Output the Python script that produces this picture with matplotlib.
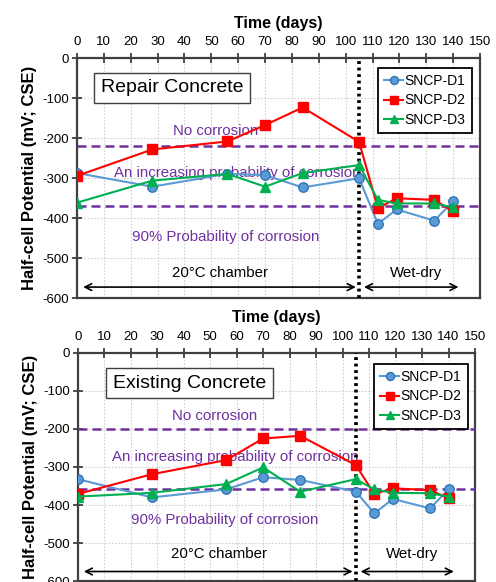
import numpy as np
import matplotlib
matplotlib.use('Agg')
import matplotlib.pyplot as plt

plt.rcParams['font.family'] = ['Liberation Sans', 'DejaVu Sans']
plt.rcParams['axes.unicode_minus'] = False

# measurement days
days = [0, 28, 56, 70, 84, 105, 112, 119, 133, 140]

# repair concrete potentials (mV, CSE)
repair_d1 = [-287, -321, -289, -292, -323, -300, -414, -378, -406, -358]
repair_d2 = [-294, -228, -208, -167, -123, -209, -375, -350, -354, -383]
repair_d3 = [-361, -306, -289, -321, -287, -267, -354, -363, -363, -373]

# existing concrete potentials (mV, CSE)
exist_d1 = [-332, -380, -359, -327, -334, -365, -422, -384, -409, -359]
exist_d2 = [-371, -319, -282, -225, -218, -295, -371, -356, -361, -382]
exist_d3 = [-378, -368, -345, -301, -365, -332, -359, -368, -369, -378]

series_names = ['SNCP-D1', 'SNCP-D2', 'SNCP-D3']

# corrosion thresholds drawn on each panel
repair_limits = [-220, -370]
exist_limits = [-200, -357]

switch_day = 105

purple = '#7030A0'
spine_col = '#404040'

styles = [
    dict(color='#5B9BD5', marker='o', ms=6.8, mfc='#5B9BD5', mec='#2E75B6', mew=1.0, lw=1.5),
    dict(color='#FF0000', marker='s', ms=7.0, mfc='#FF0000', mec='#FF0000', mew=1.0, lw=1.5),
    dict(color='#00B050', marker='^', ms=6.6, mfc='#00B050', mec='#00B050', mew=1.0, lw=1.5),
]


def draw_panel(ax, data, limits, title, txt_y, arrow_y, box_xy, leg_anchor):
    for vals, name, st in zip(data, series_names, styles):
        ax.plot(days, vals, label=name, zorder=4, **st)

    for lim in limits:
        ax.axhline(lim, color=purple, lw=1.8, dashes=(3.6, 2.0), zorder=3)
    ax.axvline(switch_day, color='black', lw=2.6, linestyle=(0, (0.8, 1.0)), zorder=3)

    ax.set_xlim(0, 150)
    ax.set_ylim(-600, 0)
    ax.set_xticks(np.arange(0, 151, 10))
    ax.set_yticks(np.arange(-600, 1, 100))
    ax.xaxis.tick_top()
    ax.xaxis.set_label_position('top')
    ax.tick_params(axis='both', direction='inout', length=7, width=1.3,
                   color=spine_col, labelsize=9.5, pad=2)
    ax.tick_params(axis='x', pad=4)
    ax.grid(True, color='#d0d0d0', lw=0.8, linestyle=(0, (1.5, 1.5)), zorder=0)
    for sp in ax.spines.values():
        sp.set_color(spine_col)
        sp.set_linewidth(1.6)

    ax.set_xlabel('Time (days)', fontsize=11.5, fontweight='bold', labelpad=6)
    ax.set_ylabel('Half-cell Potential (mV; CSE)', fontsize=12, fontweight='bold', labelpad=4)

    ax.text(box_xy[0], box_xy[1], title, fontsize=14, ha='center', va='center', zorder=6,
            bbox=dict(boxstyle='square,pad=0.35', fc='white', ec=spine_col, lw=1.0))

    ax.text(51.5, txt_y[0], 'No corrosion', color=purple, fontsize=10.8,
            ha='center', va='center', zorder=2)
    ax.text(59.6, txt_y[1], 'An increasing probability of corrosion', color=purple,
            fontsize=10.8, ha='center', va='center', zorder=2)
    ax.text(55.5, txt_y[2], '90% Probability of corrosion', color=purple, fontsize=10.8,
            ha='center', va='center', zorder=2)
    ax.text(53.3, txt_y[3], '20°C chamber', color='black', fontsize=10.8,
            ha='center', va='center')
    ax.text(126.2, txt_y[3], 'Wet-dry', color='black', fontsize=10.8,
            ha='center', va='center')

    arrow = dict(arrowstyle='<->', color='black', lw=1.2, mutation_scale=12,
                 shrinkA=0, shrinkB=0)
    ax.annotate('', xy=(103.8, arrow_y), xytext=(2.3, arrow_y), arrowprops=arrow)
    ax.annotate('', xy=(142.0, arrow_y), xytext=(106.8, arrow_y), arrowprops=arrow)

    leg = ax.legend(loc='upper right', bbox_to_anchor=leg_anchor, borderaxespad=0,
                    fontsize=10, handlelength=1.4, handletextpad=0.1,
                    labelspacing=0.38, borderpad=0.45, fancybox=False,
                    framealpha=1, edgecolor='black', markerscale=0.85)
    leg.get_frame().set_linewidth(1.3)
    leg.set_zorder(7)


fig = plt.figure(figsize=(4.96, 5.82), dpi=100)

ax1 = fig.add_axes([0.1552, 0.4875, 0.8125, 0.4124])
draw_panel(ax1, [repair_d1, repair_d2, repair_d3], repair_limits, 'Repair Concrete',
           txt_y=[-182, -287, -447, -537], arrow_y=-572, box_xy=(35.4, -74),
           leg_anchor=(0.98, 0.96))

ax2 = fig.add_axes([0.1567, 0.0017, 0.801, 0.3918])
draw_panel(ax2, [exist_d1, exist_d2, exist_d3], exist_limits, 'Existing Concrete',
           txt_y=[-166, -274, -439, -529], arrow_y=-575, box_xy=(42.2, -79),
           leg_anchor=(0.982, 0.952))

fig.savefig('out.png', dpi=100)
